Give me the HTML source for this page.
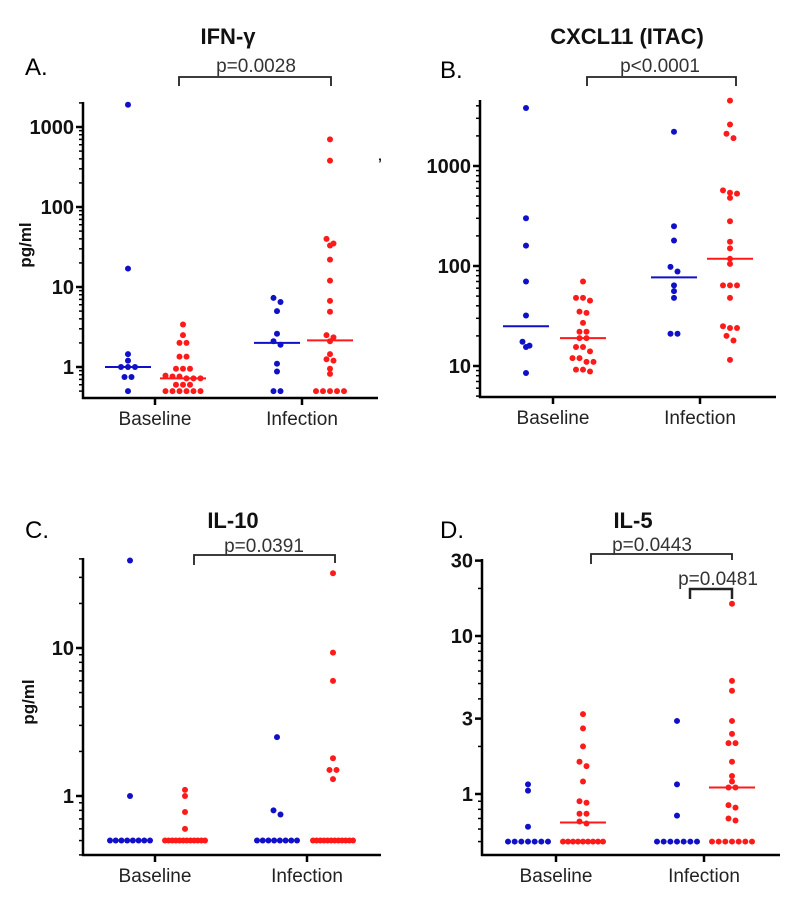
<!DOCTYPE html>
<html><head><meta charset="utf-8"><style>
html,body{margin:0;padding:0;background:#fff;}
svg{display:block;font-family:"Liberation Sans",Arial,sans-serif;}
</style></head><body>
<svg id="fig" width="800" height="908" viewBox="0 0 800 908"></svg>
<script>
// ---- Panel A: IFN-gamma ----
const categories = ["Baseline", "Infection"];
const aBlueBase = [1900, 17, 1.45, 1.2, 1.0, 1.0, 1.0, 0.75, 0.75, 0.5];
const aRedBase = [3.4, 2.5, 2.0, 2.0, 1.35, 1.35, 0.95, 0.95, 0.95, 0.78, 0.76, 0.76, 0.72, 0.72, 0.72, 0.6, 0.6, 0.6, 0.5, 0.5, 0.5, 0.5, 0.5, 0.5];
const aBlueInf = [7.3, 6.5, 5.0, 2.6, 2.1, 1.9, 1.1, 0.88, 0.5, 0.5];
const aRedInf = [700, 380, 40, 35, 33, 22, 12, 6.7, 4.9, 2.5, 2.35, 2.1, 1.45, 1.25, 1.2, 0.95, 0.82, 0.5, 0.5, 0.5, 0.5, 0.5];
const aMedians = [1.0, 0.72, 2.0, 2.15];
const aTicks = [1, 10, 100, 1000];
// ---- Panel B: CXCL11 ----
const bBlueBase = [3800, 300, 160, 70, 32, 17.5, 16, 15.5, 8.5];
const bRedBase = [70, 48, 48, 45, 35, 34, 27, 22, 22, 19, 19, 15.5, 15.5, 14, 12, 12, 11, 11, 9.2, 9.2, 8.8];
const bBlueInf = [2200, 250, 180, 98, 88, 64, 56, 48, 21, 21];
const bRedInf = [4500, 2600, 2100, 1900, 570, 540, 530, 480, 280, 175, 150, 118, 105, 64, 64, 64, 48, 25, 24, 24, 20, 18, 11.5];
const bMedians = [25, 19, 77, 118];
const bTicks = [10, 100, 1000];
// ---- Panel C: IL-10 ----
const cBlueBase = [39, 1.0, 0.5, 0.5, 0.5, 0.5, 0.5, 0.5, 0.5, 0.5];
const cRedBase = [1.1, 1.0, 0.78, 0.6, 0.5, 0.5, 0.5, 0.5, 0.5, 0.5, 0.5, 0.5, 0.5, 0.5, 0.5, 0.5];
const cBlueInf = [2.5, 0.8, 0.75, 0.5, 0.5, 0.5, 0.5, 0.5, 0.5, 0.5, 0.5];
const cRedInf = [32, 9.3, 6.0, 1.8, 1.5, 1.5, 1.3, 0.5, 0.5, 0.5, 0.5, 0.5, 0.5, 0.5, 0.5, 0.5, 0.5, 0.5, 0.5];
const cMedians = [null, null, null, null];
const cTicks = [1, 10];
// ---- Panel D: IL-5 ----
const dBlueBase = [1.15, 1.05, 0.62, 0.5, 0.5, 0.5, 0.5, 0.5, 0.5, 0.5];
const dRedBase = [3.2, 2.6, 2.0, 1.6, 1.5, 1.2, 0.9, 0.88, 0.75, 0.75, 0.67, 0.65, 0.5, 0.5, 0.5, 0.5, 0.5, 0.5, 0.5, 0.5, 0.5];
const dBlueInf = [2.9, 1.15, 0.73, 0.5, 0.5, 0.5, 0.5, 0.5, 0.5, 0.5];
const dRedInf = [16, 5.2, 4.5, 2.9, 2.4, 2.1, 2.1, 1.6, 1.3, 1.2, 1.1, 1.1, 0.85, 0.82, 0.7, 0.68, 0.5, 0.5, 0.5, 0.5, 0.5, 0.5, 0.5];
const dMedians = [null, 0.66, null, 1.1];
const dTicks = [1, 3, 10, 30];

const NS = "http://www.w3.org/2000/svg";
const svg = document.getElementById("fig");
function mk(tag, attrs, parent, text) {
  const e = document.createElementNS(NS, tag);
  for (const k in attrs) e.setAttribute(k, attrs[k]);
  if (text !== undefined) e.textContent = text;
  (parent || svg).appendChild(e);
  return e;
}

const panels = [
  {id:"a", letter:"A.", lx:25, ly:75, title:"IFN-\u03b3", tx:228, ty:44,
   ax:83, bottom:398, top:102, right:378, refVal:1, refY:367, dec:80, yMin:0.42,
   catX:[155,302], grpX:[128,183,277,330],
   series:[aBlueBase,aRedBase,aBlueInf,aRedInf], med:aMedians, ticks:aTicks, ylab:true, ylabX:25, ylabY:245,
   brackets:[{x1:179,x2:331,y:77,d1:9,d2:9,text:"p=0.0028",tx:256,ty:72}]},
  {id:"b", letter:"B.", lx:440, ly:78, title:"CXCL11 (ITAC)", tx:627, ty:44,
   ax:480, bottom:397, top:100, right:776, refVal:10, refY:366, dec:100, yMin:5,
   catX:[553,700], grpX:[526,583,674,730],
   series:[bBlueBase,bRedBase,bBlueInf,bRedInf], med:bMedians, ticks:bTicks, ylab:false,
   brackets:[{x1:587,x2:736,y:77,d1:9,d2:9,text:"p<0.0001",tx:660,ty:72}]},
  {id:"c", letter:"C.", lx:25, ly:538, title:"IL-10", tx:233, ty:528,
   ax:83, bottom:855, top:558, right:381, refVal:1, refY:796, dec:148, yMin:0.4,
   catX:[155,307], grpX:[130,185,277,333],
   series:[cBlueBase,cRedBase,cBlueInf,cRedInf], med:cMedians, ticks:cTicks, ylab:true, ylabX:28, ylabY:702,
   brackets:[{x1:194,x2:335,y:555,d1:10,d2:8,text:"p=0.0391",tx:264,ty:552}]},
  {id:"d", letter:"D.", lx:440, ly:538, title:"IL-5", tx:633, ty:528,
   ax:482, bottom:855, top:559, right:780, refVal:1, refY:794, dec:158, yMin:0.4,
   catX:[556,704], grpX:[528,583,677,732],
   series:[dBlueBase,dRedBase,dBlueInf,dRedInf], med:dMedians, ticks:dTicks, ylab:false,
   brackets:[{x1:591,x2:732,y:554,d1:10,d2:6,text:"p=0.0443",tx:652,ty:551},
             {x1:690,x2:732,y:589,d1:10,d2:10,text:"p=0.0481",tx:718,ty:585}]}
];
const colors = ["#1010c8","#ff1a1a","#1010c8","#ff1a1a"];

panels.forEach(p => {
  const g = mk("g", {});
  
  
  const yS = v => p.refY - (Math.log10(v) - Math.log10(p.refVal)) * p.dec;
  const lt = mk("text", {x:p.lx, y:p.ly, "font-size":24, fill:"#000"}, g, p.letter);
  
  
  const tt = mk("text", {x:p.tx, y:p.ty, "font-size":22, "font-weight":"bold", "text-anchor":"middle", fill:"#111"}, g, p.title);
  
  
  const ya = mk("line", {x1:p.ax, y1:p.top, x2:p.ax, y2:p.bottom+1, stroke:"#000", "stroke-width":2.5}, g);
  
  
  const xa = mk("line", {x1:p.ax-1, y1:p.bottom, x2:p.right, y2:p.bottom, stroke:"#000", "stroke-width":2.5}, g);
  
  
  const yTopVal = Math.pow(10, Math.log10(p.refVal) + (p.refY - p.top)/p.dec);
  for (let e = -2; e <= 4; e++) for (let m = 1; m <= 9; m++) {
    const v = m * Math.pow(10, e);
    if (v < p.yMin || v > yTopVal) continue;
    const y = yS(v);
    if (y > p.bottom || y < p.top) continue;
    const mt = mk("line", {x1:p.ax-4, y1:y, x2:p.ax, y2:y, stroke:"#000", "stroke-width":1.5}, g);
    
    
  }
  p.ticks.forEach(t => {
    const y = yS(t);
    const tk = mk("line", {x1:p.ax-7, y1:y, x2:p.ax, y2:y, stroke:"#000", "stroke-width":2.5}, g);
    
    
    const tl = mk("text", {x:p.ax-9, y:y+7, "font-size":20, "font-weight":"bold", "text-anchor":"end", fill:"#111"}, g, String(t));
    
    
  });
  if (p.ylab) {
    const yl = mk("text", {x:0, y:0, "font-size":17, "font-weight":"bold", "text-anchor":"middle", fill:"#111",
      transform:`translate(${p.ylabX + 6},${p.ylabY}) rotate(-90)`}, g, "pg/ml");
    
    
  }
  categories.forEach((c, i) => {
    const x = p.catX[i];
    const ct = mk("line", {x1:x, y1:p.bottom, x2:x, y2:p.bottom+7, stroke:"#000", "stroke-width":2.5}, g);
    
    
    const cl = mk("text", {x:x, y:p.bottom+27, "font-size":19, "text-anchor":"middle", fill:"#222"}, g, c);
    
    
  });
  p.brackets.forEach(b => {
    const br = mk("path", {d:`M${b.x1},${b.y+b.d1} V${b.y} H${b.x2} V${b.y+b.d2}`, fill:"none", stroke:"#222", "stroke-width":b.x2-b.x1<60?2.5:1.8}, g);
    
    
    const bt = mk("text", {x:b.tx, y:b.ty, "font-size":19, "text-anchor":"middle", fill:"#333"}, g, b.text);
    
    
  });
  p.series.forEach((vals, si) => {
    const cx = p.grpX[si];
    const pts = vals.map(v => yS(v)).sort((a,b)=>a-b);
    let groups = [];
    pts.forEach(y => {
      const last = groups[groups.length-1];
      if (last && Math.abs(y - last[0]) < 5) last.push(y); else groups.push([y]);
    });
    groups.forEach(gr => {
      const n = gr.length;
      const sp = n > 1 ? Math.min(7, 40/(n-1)) : 0;
      gr.forEach((y, i) => {
        const dot = mk("circle", {cx:cx + (i-(n-1)/2)*sp, cy:y, r:3, fill:colors[si]}, g);
        
        
      });
    });
    const m = p.med[si];
    if (m !== null) {
      const y = yS(m);
      const ml = mk("line", {x1:cx-23, y1:y, x2:cx+23, y2:y, stroke:colors[si], "stroke-width":2}, g);
      
      
    }
  });
});
const stray = mk("text", {x:378, y:168, "font-size":14, "font-weight":"bold", fill:"#111"}, svg, "\u2019");


</script>
</body></html>
